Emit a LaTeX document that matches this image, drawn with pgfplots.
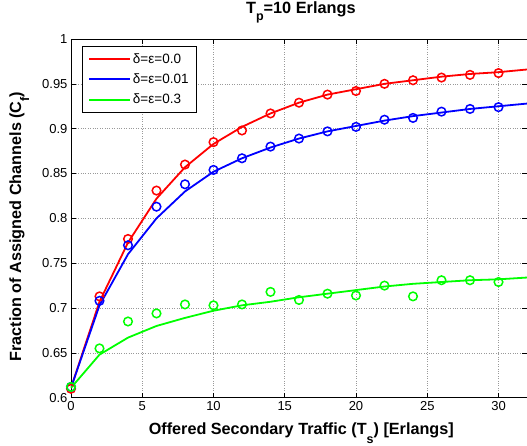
\documentclass[border=0pt]{standalone}
\usepackage{pgfplots}
\pgfplotsset{compat=1.18}
\usepackage{fontspec}
\setmainfont{Liberation Sans}
\definecolor{mred}{rgb}{1,0,0}
\definecolor{mblue}{rgb}{0,0,1}
\definecolor{mgreen}{rgb}{0,1,0}
\newcommand\msub[2][-7.7pt]{\raisebox{#1}{\fontsize{12.5}{12}\selectfont #2}}
\begin{document}
\begin{tikzpicture}
\begin{axis}[
  width=456pt, height=358.7pt, scale only axis,
  xmin=0, xmax=32, ymin=0.6, ymax=1,
  xtick={0,5,...,30},
  ytick={0.6,0.65,0.7,0.75,0.8,0.85,0.9,0.95,1},
  yticklabels={0.6,0.65,0.7,0.75,0.8,0.85,0.9,0.95,1},
  /pgf/number format/assume math mode=true,
  tick label style={font=\fontsize{13}{14}\selectfont},
  tick align=inside,
  major tick length=5pt,
  tick style={line width=0.6pt, black},
  grid=major,
  grid style={dotted, gray!80, line width=0.6pt},
  axis line style={line width=0.9pt},
  title={\bfseries T\msub{p}=10 Erlangs},
  title style={font=\fontsize{16.3}{17}\selectfont, at={(axis description cs:0.504,1)}, anchor=base, yshift=20pt},
  xlabel={\bfseries Offered Secondary Traffic (T\msub[-9pt]{s}) [Erlangs]},
  ylabel={\bfseries Fraction of Assigned Channels (C\msub[-8pt]{f})},
  label style={font=\fontsize{16.2}{17}\selectfont},
  xlabel style={at={(axis description cs:0.505,-0.102)}, anchor=base},
  ylabel style={at={(axis description cs:-0.1096,0.477)}, anchor=base},
  legend style={at={(axis description cs:0.0235,0.9805)}, anchor=north west, draw=black, line width=0.9pt,
    font=\fontsize{13.5}{15}\selectfont, fill=white, inner xsep=6pt, inner ysep=5pt, row sep=5pt},
  legend cell align=left,
  legend image code/.code={\draw[#1, line width=1.8pt] (0pt,0pt) -- (41pt,0pt);},
]
\addplot[mred, line width=1.8pt] coordinates {
(0,0.611) (2,0.707) (4,0.773) (6,0.822) (8,0.857) (10,0.883) (12,0.902) (14,0.917) (16,0.929) (18,0.938) (20,0.944) (22,0.950) (24,0.954) (26,0.958) (28,0.961) (30,0.963) (32,0.966)};
\addlegendentry{δ=ε=0.0}
\addplot[mblue, line width=1.8pt] coordinates {
(0,0.611) (2,0.703) (4,0.760) (6,0.800) (8,0.830) (10,0.852) (12,0.867) (14,0.879) (16,0.889) (18,0.897) (20,0.903) (22,0.909) (24,0.914) (26,0.918) (28,0.922) (30,0.925) (32,0.928)};
\addlegendentry{δ=ε=0.01}
\addplot[mgreen, line width=1.8pt] coordinates {
(0,0.611) (2,0.648) (4,0.667) (6,0.680) (8,0.689) (10,0.697) (12,0.703) (14,0.707) (16,0.712) (18,0.716) (20,0.720) (22,0.724) (24,0.727) (26,0.729) (28,0.731) (30,0.732) (32,0.734)};
\addlegendentry{δ=ε=0.3}
\addplot[mred, only marks, mark=o, mark size=4.3pt, line width=1.5pt, forget plot] coordinates {
(0,0.610) (2,0.713) (4,0.777) (6,0.831) (8,0.860) (10,0.885) (12,0.898) (14,0.917) (16,0.929) (18,0.938) (20,0.942) (22,0.950) (24,0.954) (26,0.957) (28,0.960) (30,0.962)};
\addplot[mblue, only marks, mark=o, mark size=4.3pt, line width=1.5pt, forget plot] coordinates {
(0,0.612) (2,0.708) (4,0.770) (6,0.813) (8,0.838) (10,0.854) (12,0.867) (14,0.880) (16,0.889) (18,0.897) (20,0.902) (22,0.910) (24,0.912) (26,0.919) (28,0.922) (30,0.924)};
\addplot[mgreen, only marks, mark=o, mark size=4.3pt, line width=1.5pt, forget plot] coordinates {
(0,0.612) (2,0.655) (4,0.685) (6,0.694) (8,0.704) (10,0.703) (12,0.704) (14,0.718) (16,0.709) (18,0.716) (20,0.714) (22,0.725) (24,0.713) (26,0.731) (28,0.731) (30,0.729)};
\end{axis}
\pgfresetboundingbox
\path (current axis.south west) ++(-71pt,-47.3pt) rectangle ++(527pt,445pt);
\end{tikzpicture}
\end{document}
